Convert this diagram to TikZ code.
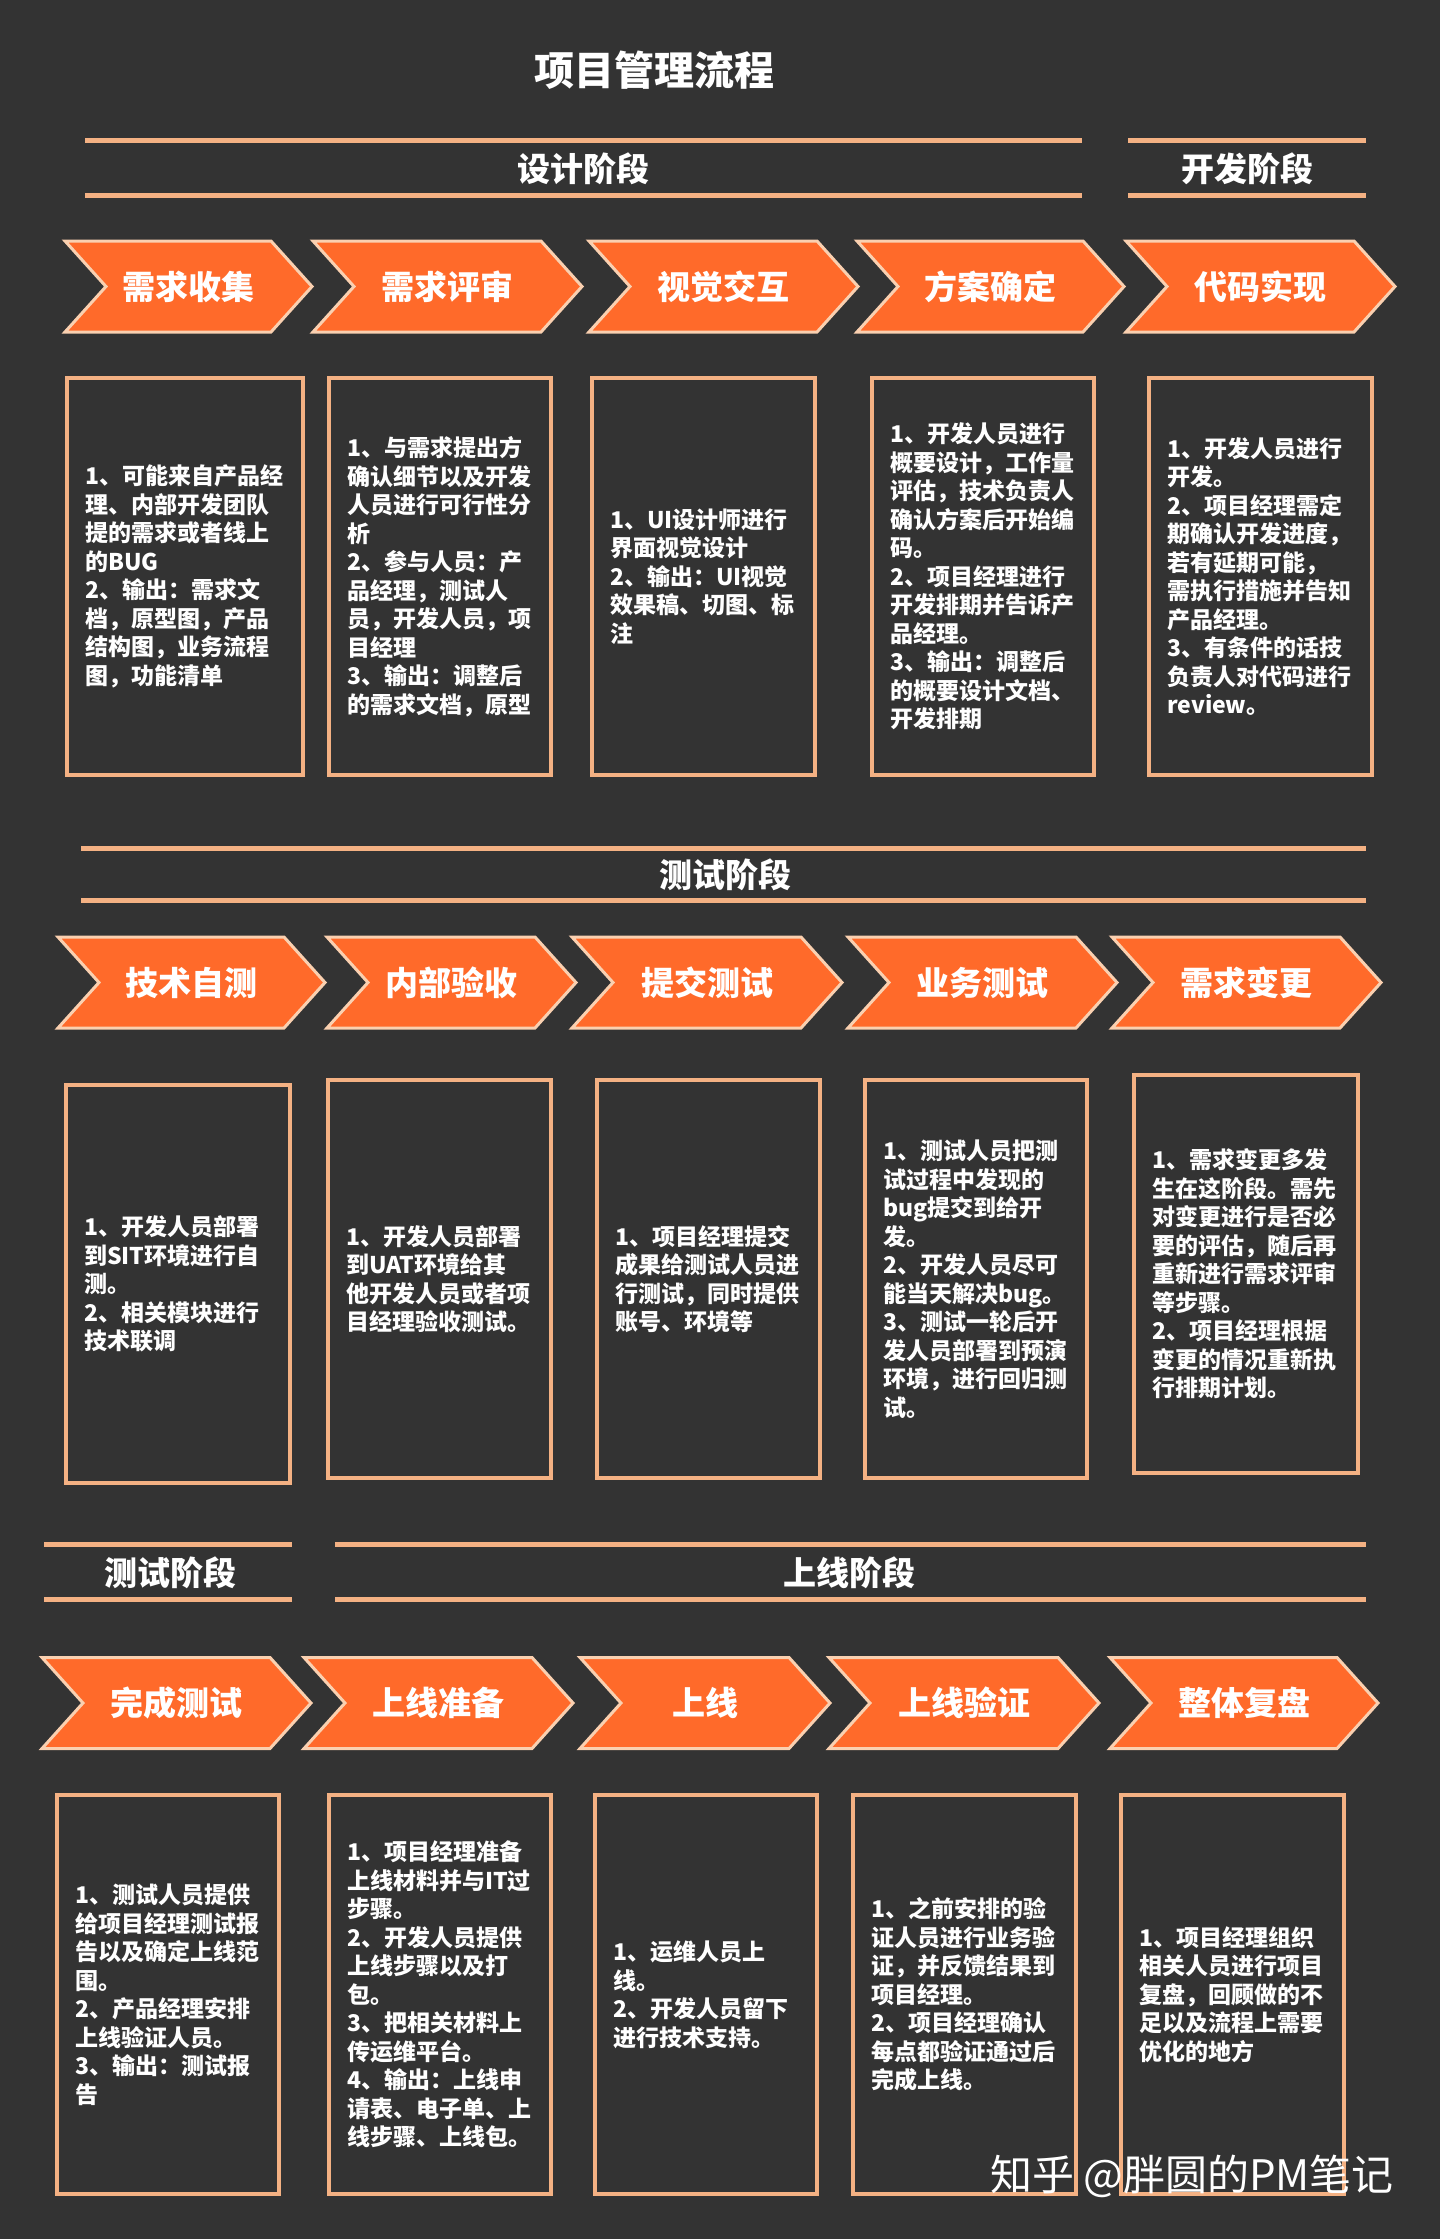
\documentclass[tikz,border=0pt]{standalone}
\usepackage{fontspec}
\setmainfont{Noto Sans CJK SC}
\usepackage{tikz}
\usetikzlibrary{shapes.symbols, positioning}
\definecolor{bgdark}{HTML}{333333}
\definecolor{chevorange}{HTML}{FF6A2A}
\definecolor{peach}{HTML}{F4B183}
\definecolor{peachlight}{HTML}{FAD0B0}

\begin{document}
\begin{tikzpicture}[x=1pt, y=-1pt,
    chev/.style={shape=signal, signal from=west, signal to=east, signal pointer angle=96, fill=chevorange, draw=peachlight, line width=3pt, minimum height=91pt, inner sep=0pt, text=white, font=\bfseries\fontsize{33}{33}\selectfont},
    card/.style={draw=peach, line width=4pt, inner sep=0pt},
    cardtext/.style={text=white, align=left, inner sep=0pt, font=\bfseries\fontsize{23}{28.5}\selectfont},
    phase/.style={text=white, font=\bfseries\fontsize{33}{33}\selectfont},
    rule/.style={draw=peach, line width=5pt}]
    \fill[bgdark] (0,0) rectangle (1440,2239);
    \useasboundingbox (0,0) rectangle (1440,2239);

    \node[text=white, font=\bfseries\fontsize{40}{40}\selectfont] (title) at (654,70) {项目管理流程};

    \node[phase] (design) at (583,169) {设计阶段};
    \node[phase] (dev) at (1247,169) {开发阶段};
    \node[phase] (test) at (725,875) {测试阶段};
    \node[phase] (test2) at (170,1573) {测试阶段};
    \node[phase] (launch) at (849,1573) {上线阶段};

    \draw[rule] (85,140) -- (1082,140) (85,195) -- (1082,195)
                (1128,140) -- (1366,140) (1128,195) -- (1366,195)
                (81,848) -- (1366,848) (81,900) -- (1366,900)
                (44,1544) -- (292,1544) (44,1599) -- (292,1599)
                (335,1544) -- (1366,1544) (335,1599) -- (1366,1599);

    \node[chev, minimum width=247pt] (c11) at (188.5,286.5) {需求收集};
    \node[chev, minimum width=269pt] (c12) at (447.5,286.5) {需求评审};
    \node[chev, minimum width=269pt] (c13) at (723.5,286.5) {视觉交互};
    \node[chev, minimum width=267pt] (c14) at (990.5,286.5) {方案确定};
    \node[chev, minimum width=269pt] (c15) at (1260.5,286.5) {代码实现};

    \node[chev, minimum width=267pt] (c21) at (191.5,982.5) {技术自测};
    \node[chev, minimum width=249pt] (c22) at (451.5,982.5) {内部验收};
    \node[chev, minimum width=270pt] (c23) at (707,982.5) {提交测试};
    \node[chev, minimum width=269pt] (c24) at (982.5,982.5) {业务测试};
    \node[chev, minimum width=269pt] (c25) at (1246.5,982.5) {需求变更};

    \node[chev, minimum width=269pt] (c31) at (176.5,1703) {完成测试};
    \node[chev, minimum width=269pt] (c32) at (438.5,1703) {上线准备};
    \node[chev, minimum width=250pt] (c33) at (705,1703) {上线};
    \node[chev, minimum width=270pt] (c34) at (964,1703) {上线验证};
    \node[chev, minimum width=268pt] (c35) at (1244,1703) {整体复盘};

    \node[card, minimum width=236pt, minimum height=397pt] (d11) at (185,576.5) {};
    \node[card, minimum width=222pt, minimum height=397pt] (d12) at (440,576.5) {};
    \node[card, minimum width=223pt, minimum height=397pt] (d13) at (703.5,576.5) {};
    \node[card, minimum width=222pt, minimum height=397pt] (d14) at (983,576.5) {};
    \node[card, minimum width=223pt, minimum height=397pt] (d15) at (1260.5,576.5) {};

    \node[card, minimum width=224pt, minimum height=398pt] (d21) at (178,1284) {};
    \node[card, minimum width=223pt, minimum height=398pt] (d22) at (439.5,1279) {};
    \node[card, minimum width=223pt, minimum height=398pt] (d23) at (708.5,1279) {};
    \node[card, minimum width=222pt, minimum height=398pt] (d24) at (976,1279) {};
    \node[card, minimum width=224pt, minimum height=398pt] (d25) at (1246,1274) {};

    \node[card, minimum width=222pt, minimum height=399pt] (d31) at (168,1994.5) {};
    \node[card, minimum width=222pt, minimum height=399pt] (d32) at (440,1994.5) {};
    \node[card, minimum width=222pt, minimum height=399pt] (d33) at (706,1994.5) {};
    \node[card, minimum width=223pt, minimum height=399pt] (d34) at (964.5,1994.5) {};
    \node[card, minimum width=223pt, minimum height=399pt] (d35) at (1232.5,1994.5) {};

    \node[cardtext, right=20pt of d11.west] (t11) {1、可能来自产品经\\理、内部开发团队\\提的需求或者线上\\的BUG\\2、输出：需求文\\档，原型图，产品\\结构图，业务流程\\图，功能清单};
    \node[cardtext, right=20pt of d12.west] (t12) {1、与需求提出方\\确认细节以及开发\\人员进行可行性分\\析\\2、参与人员：产\\品经理，测试人\\员，开发人员，项\\目经理\\3、输出：调整后\\的需求文档，原型};
    \node[cardtext, right=20pt of d13.west] (t13) {1、UI设计师进行\\界面视觉设计\\2、输出：UI视觉\\效果稿、切图、标\\注};
    \node[cardtext, right=20pt of d14.west] (t14) {1、开发人员进行\\概要设计，工作量\\评估，技术负责人\\确认方案后开始编\\码。\\2、项目经理进行\\开发排期并告诉产\\品经理。\\3、输出：调整后\\的概要设计文档、\\开发排期};
    \node[cardtext, right=20pt of d15.west] (t15) {1、开发人员进行\\开发。\\2、项目经理需定\\期确认开发进度，\\若有延期可能，\\需执行措施并告知\\产品经理。\\3、有条件的话技\\负责人对代码进行\\review。};

    \node[cardtext, right=20pt of d21.west] (t21) {1、开发人员部署\\到SIT环境进行自\\测。\\2、相关模块进行\\技术联调};
    \node[cardtext, right=20pt of d22.west] (t22) {1、开发人员部署\\到UAT环境给其\\他开发人员或者项\\目经理验收测试。};
    \node[cardtext, right=20pt of d23.west] (t23) {1、项目经理提交\\成果给测试人员进\\行测试，同时提供\\账号、环境等};
    \node[cardtext, right=20pt of d24.west] (t24) {1、测试人员把测\\试过程中发现的\\bug提交到给开\\发。\\2、开发人员尽可\\能当天解决bug。\\3、测试一轮后开\\发人员部署到预演\\环境，进行回归测\\试。};
    \node[cardtext, right=20pt of d25.west] (t25) {1、需求变更多发\\生在这阶段。需先\\对变更进行是否必\\要的评估，随后再\\重新进行需求评审\\等步骤。\\2、项目经理根据\\变更的情况重新执\\行排期计划。};

    \node[cardtext, right=20pt of d31.west] (t31) {1、测试人员提供\\给项目经理测试报\\告以及确定上线范\\围。\\2、产品经理安排\\上线验证人员。\\3、输出：测试报\\告};
    \node[cardtext, right=20pt of d32.west] (t32) {1、项目经理准备\\上线材料并与IT过\\步骤。\\2、开发人员提供\\上线步骤以及打\\包。\\3、把相关材料上\\传运维平台。\\4、输出：上线申\\请表、电子单、上\\线步骤、上线包。};
    \node[cardtext, right=20pt of d33.west] (t33) {1、运维人员上\\线。\\2、开发人员留下\\进行技术支持。};
    \node[cardtext, right=20pt of d34.west] (t34) {1、之前安排的验\\证人员进行业务验\\证，并反馈结果到\\项目经理。\\2、项目经理确认\\每点都验证通过后\\完成上线。};
    \node[cardtext, right=20pt of d35.west] (t35) {1、项目经理组织\\相关人员进行项目\\复盘，回顾做的不\\足以及流程上需要\\优化的地方};

    \node[text=white, font=\fontsize{42}{42}\selectfont] (mark) at (1192,2176) {知乎\ @胖圆的PM笔记};
\end{tikzpicture}
\end{document}
